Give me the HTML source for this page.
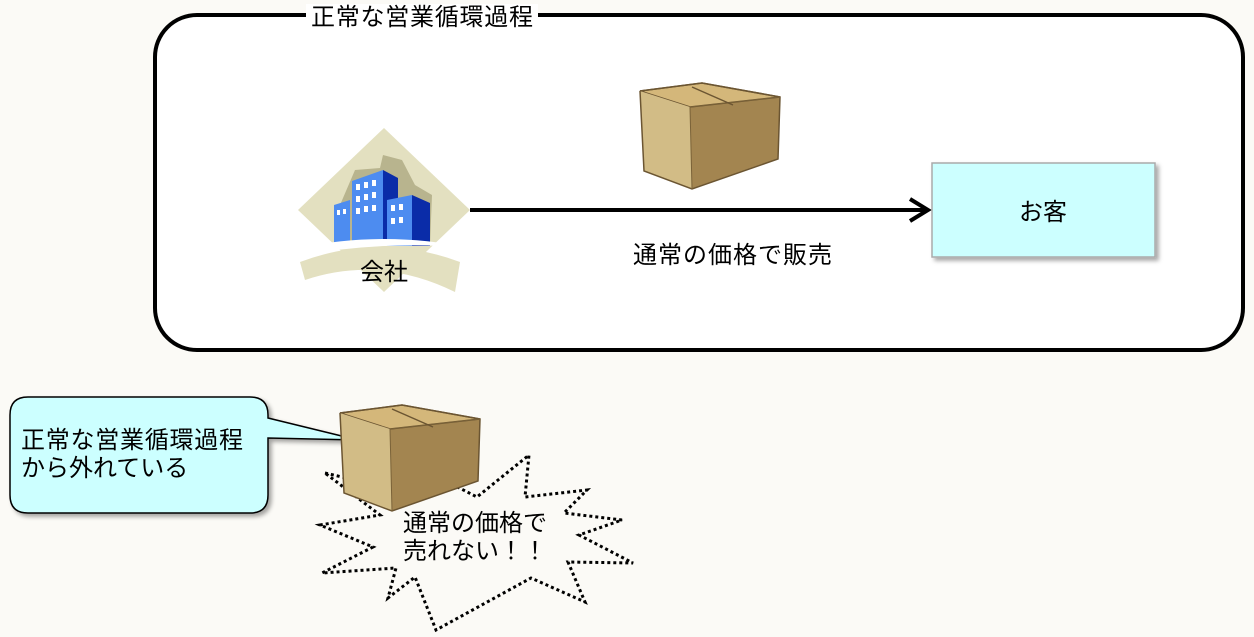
<!DOCTYPE html>
<html><head><meta charset="utf-8"><style>
html,body{margin:0;padding:0;background:#fbfaf6;}
svg{display:block}
text{font-family:"Liberation Sans","Noto Sans CJK JP",sans-serif;font-size:24px;fill:#000}
</style></head><body>
<svg width="1254" height="637" viewBox="0 0 1254 637" xmlns="http://www.w3.org/2000/svg">
<defs>
<filter id="sh" x="-10%" y="-10%" width="130%" height="130%"><feDropShadow dx="3" dy="3" stdDeviation="2" flood-color="#000" flood-opacity="0.35"/></filter>
<g id="box">
<polygon points="0,8 62,0 140,14 138,76 52,106 4,88" fill="#a38550"/>
<polygon points="0,8 62,0 140,14 50,24" fill="#d4b77a" stroke="#6b5532" stroke-width="1.5"/>
<polygon points="0,8 50,24 52,106 4,88" fill="#d2bc86"/>
<polyline points="0,8 62,0 140,14 138,76 52,106 4,88 0,8" fill="none" stroke="#6b5532" stroke-width="1.5"/>
<line x1="50" y1="24" x2="140" y2="14" stroke="#7a6238" stroke-width="1"/>
<line x1="50" y1="24" x2="52" y2="106" stroke="#7a6238" stroke-width="1"/>
<line x1="52" y1="4" x2="93" y2="22" stroke="#6b5532" stroke-width="1.5"/>
</g>
</defs>
<rect x="155" y="15" width="1088" height="335" rx="42" fill="#fff" stroke="#000" stroke-width="4"/>
<rect x="306" y="4" width="232" height="24" fill="#fff"/>
<text x="311" y="25" textLength="222">正常な営業循環過程</text>

<use href="#box" x="640" y="83"/>

<!-- company icon -->
<polygon points="384,128 470,210 384,292 298,210" fill="#e3e0c0"/>
<polygon points="340,205 355,170 380,168 383,155 402,160 415,185 432,195 430,245 340,245" fill="#b8b48e"/>
<polygon points="334,205 350,200 350,245 334,245" fill="#4d8cf0"/>
<polygon points="352,181 383,170 383,245 352,245" fill="#4d8cf0"/>
<polygon points="383,170 398,178 398,245 383,245" fill="#0a2ca8"/>
<polygon points="387,200 412,195 412,246 387,246" fill="#4d8cf0"/>
<polygon points="412,195 430,203 430,246 412,246" fill="#0a2ca8"/>
<g fill="#fff">
<rect x="356" y="184" width="4" height="6"/><rect x="364" y="182" width="4" height="6"/><rect x="372" y="180" width="4" height="6"/>
<rect x="356" y="196" width="4" height="6"/><rect x="364" y="194" width="4" height="6"/><rect x="372" y="192" width="4" height="6"/>
<rect x="356" y="208" width="4" height="6"/><rect x="364" y="206" width="4" height="6"/><rect x="372" y="205" width="4" height="6"/>
<rect x="391" y="205" width="4" height="6"/><rect x="399" y="204" width="4" height="6"/>
<rect x="391" y="218" width="4" height="6"/><rect x="399" y="217" width="4" height="6"/>
<rect x="337" y="210" width="3" height="5"/><rect x="343" y="209" width="3" height="5"/>
</g>
<path d="M300,262 Q380,232 460,262 L455,292 Q380,255 305,280 Z" fill="#e3e0c0"/>
<path d="M298,248 Q385,230 470,248 Q385,240 298,256 Z" fill="#fff"/>
<text x="360" y="280">会社</text>

<line x1="470" y1="210" x2="926" y2="210" stroke="#000" stroke-width="4"/>
<polyline points="910,199 928,210 910,221" fill="none" stroke="#000" stroke-width="4"/>
<text x="633" y="263" textLength="199">通常の価格で販売</text>

<rect x="932" y="163" width="223" height="94" fill="#ccffff" stroke="#aaa" stroke-width="1.5" filter="url(#sh)"/>
<text x="1019" y="220">お客</text>

<!-- callout -->
<path d="M28,397 H250 Q268,397 268,415 V418 L358,440 L268,438 V495 Q268,513 250,513 H28 Q10,513 10,495 V415 Q10,397 28,397 Z" fill="#ccffff" stroke="#000" stroke-width="1.5" filter="url(#sh)"/>
<text x="21" y="448" textLength="222">正常な営業循環過程</text>
<text x="21" y="476">から外れている</text>

<!-- starburst -->
<polygon points="325,473 419,495 438,477 477,497 529,455 525,497 587,490 564,513 622,520 579,535 633,563 568,562 585,602 531,578 436,630 415,577 388,598 396,568 322,573 373,547 320,525 380,515" fill="#fbfaf6" stroke="#000" stroke-width="3" stroke-dasharray="3,3"/>
<use href="#box" x="340" y="405"/>
<text x="403" y="531">通常の価格で</text>
<text x="403" y="559">売れない！！</text>
</svg>
</body></html>
